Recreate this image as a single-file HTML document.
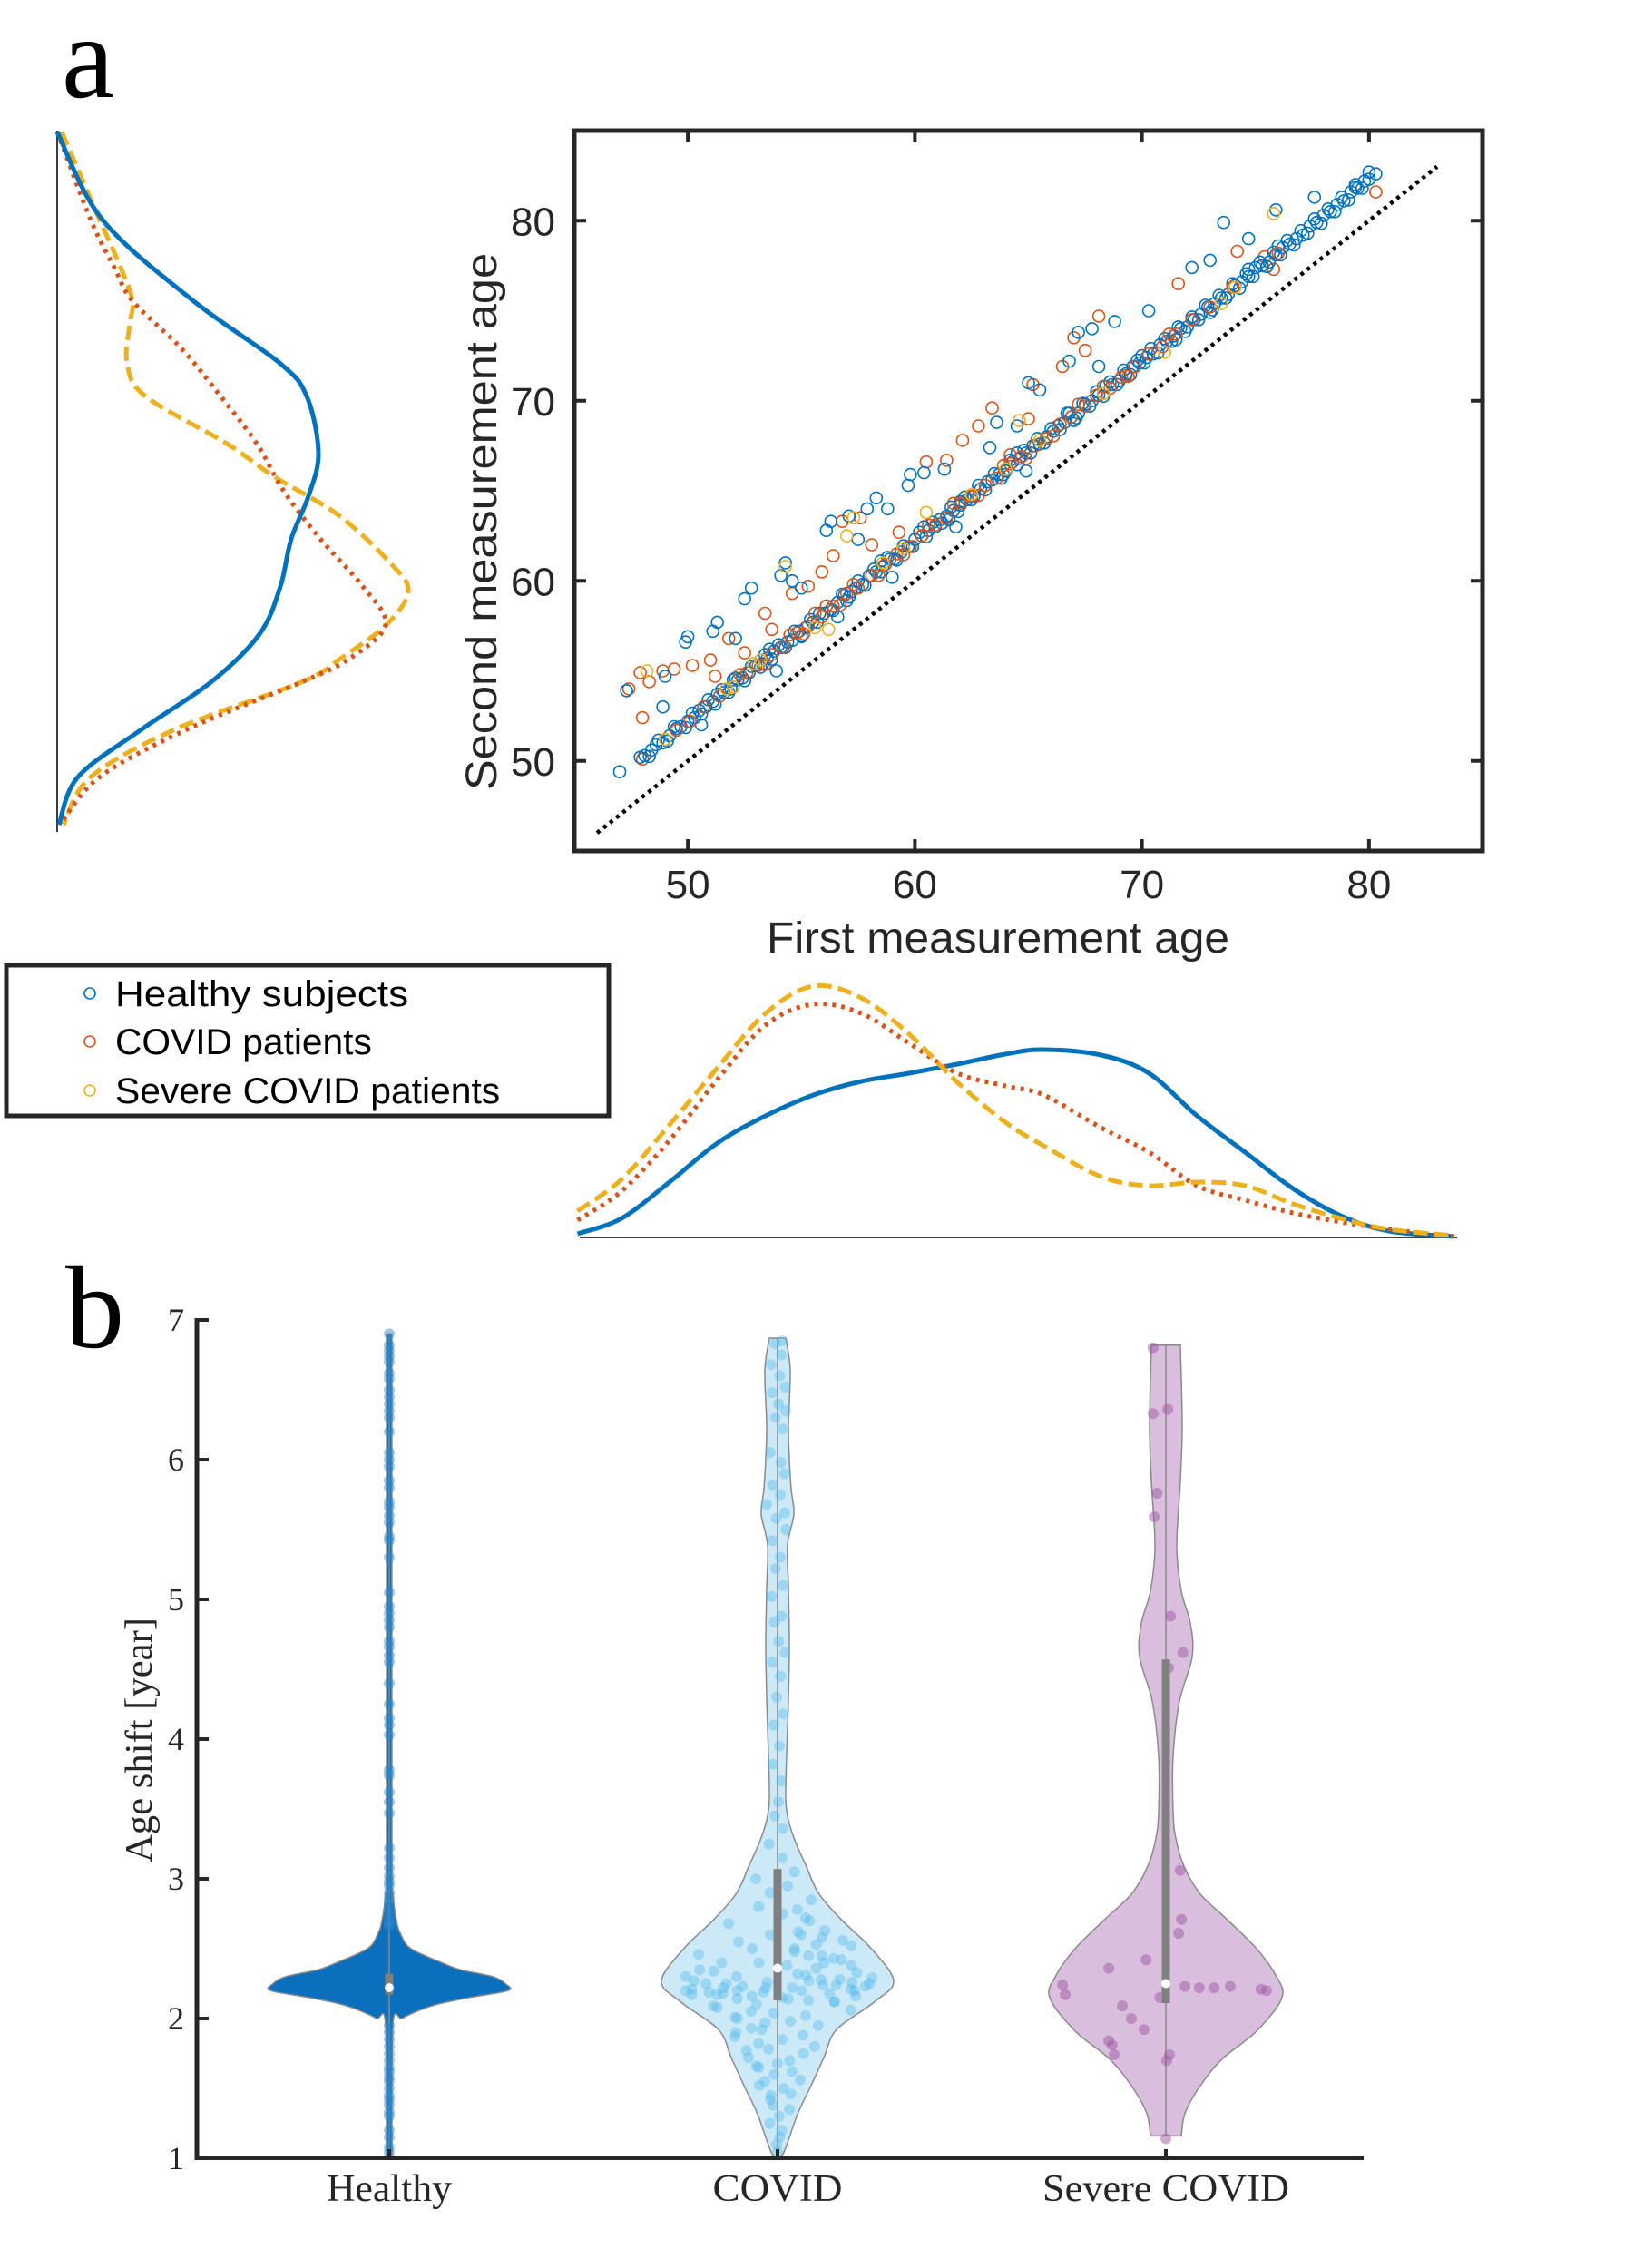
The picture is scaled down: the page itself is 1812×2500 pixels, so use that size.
<!DOCTYPE html>
<html><head><meta charset="utf-8"><title>Age shift figure</title>
<style>html,body{margin:0;padding:0;background:#fff}svg{display:block}</style></head>
<body>
<svg id="fig" xmlns="http://www.w3.org/2000/svg" width="1812" height="2500" viewBox="0 0 1812 2500">
<rect width="1812" height="2500" fill="#fff"/>
<text x="68" y="107" font-family="Liberation Serif, serif" font-size="130">a</text>
<text x="72" y="1485" font-family="Liberation Serif, serif" font-size="130">b</text>
<g id="scatterG"></g>
<g id="leftG"></g>
<g id="bottomG"></g>
<g id="legendG"></g>
<g id="violinG"></g>
</svg>
<script>
// ---------- Scatter data ----------
const blueBand = [[47.9,2.3],[48.1,2.2],[48.4,2.2],[48.6,2.3],[48.9,2.1],[49.2,2.2],[49.5,2.3],[49.7,2.2],[50.0,2.2],[50.3,2.1],[50.5,2.3],[50.8,2.2],[51.1,2.2],[51.3,2.4],[51.6,2.2],[51.9,2.1],[52.2,2.3],[52.4,2.2],[52.7,2.2],[53.0,2.3],[53.3,2.1],[53.5,2.2],[53.8,2.3],[54.1,2.2],[54.4,2.2],[54.6,2.1],[54.9,2.3],[55.2,2.2],[55.5,2.2],[55.8,2.4],[56.0,2.2],[56.3,2.1],[56.6,2.2],[56.9,2.3],[57.2,2.2],[57.4,2.2],[57.7,2.1],[58.0,2.3],[58.3,2.2],[58.6,2.2],[58.9,2.3],[59.1,2.1],[59.4,2.2],[59.7,2.2],[60.0,2.3],[60.3,2.2],[60.6,2.2],[60.9,2.1],[61.1,2.3],[61.4,2.2],[61.7,2.2],[62.0,2.4],[62.3,2.2],[62.6,2.1],[62.9,2.2],[63.2,2.3],[63.4,2.2],[63.7,2.2],[64.0,2.1],[64.3,2.3],[64.6,2.2],[64.9,2.2],[65.2,2.3],[65.5,2.1],[65.8,2.2],[66.1,2.2],[66.3,2.3],[66.6,2.2],[66.9,2.2],[67.2,2.1],[67.5,2.3],[67.8,2.2],[68.1,2.2],[68.4,2.4],[68.7,2.2],[69.0,2.1],[69.3,2.2],[69.6,2.3],[69.9,2.2],[70.2,2.2],[70.5,2.1],[70.8,2.3],[71.1,2.2],[71.4,2.2],[71.7,2.3],[72.0,2.1],[72.3,2.2],[72.6,2.2],[72.9,2.3],[73.2,2.2],[73.5,2.2],[73.8,2.1],[74.1,2.3],[74.4,2.2],[74.7,2.2],[75.0,2.4],[75.3,2.2],[75.6,2.1],[75.9,2.2],[76.2,2.3],[76.5,2.2],[76.8,2.2],[77.1,2.1],[77.4,2.3],[77.7,2.2],[78.0,2.3],[78.3,2.2],[78.6,2.3],[78.9,2.2],[79.2,2.4],[79.5,2.3],[79.8,2.4],[80.0,2.3],[80.3,2.3],[52.0,2.5],[55.0,1.9],[58.5,2.6],[61.5,1.9],[64.5,2.6],[67.0,1.9],[70.0,2.5],[73.0,1.9],[76.0,2.6],[53.6,2.6],[57.0,1.9],[60.4,2.6],[63.8,1.9],[66.7,2.6],[71.5,1.9],[74.7,2.6]];
const blueBand2 = [[48.3,1.95],[48.7,2.45],[49.1,2.0],[49.4,2.5],[49.9,1.95],[50.2,2.45],[50.6,2.0],[50.9,2.5],[51.2,1.95],[51.5,2.45],[51.8,2.0],[52.1,2.5],[52.5,1.95],[52.8,2.45],[53.2,2.0],[53.4,2.5],[53.7,1.95],[54.0,2.45],[54.3,2.0],[54.7,2.5],[55.0,1.95],[55.4,2.45],[55.7,2.0],[56.1,2.5],[56.4,1.95],[56.8,2.45],[57.1,2.0],[57.5,2.5],[57.8,1.95],[58.2,2.45],[58.5,2.0],[58.8,2.5],[59.2,1.95],[59.5,2.45],[59.9,2.0],[60.2,2.5],[60.5,1.95],[60.8,2.45],[61.2,2.0],[61.6,2.5],[61.9,1.95],[62.2,2.45],[62.5,2.0],[62.8,2.5],[63.1,1.95],[63.5,2.45],[63.9,2.0],[64.2,2.5],[64.5,1.95],[64.8,2.45],[65.1,2.0],[65.4,2.5],[65.7,1.95],[66.0,2.45],[66.4,2.0],[66.8,2.5],[67.1,1.95],[67.4,2.45],[67.7,2.0],[68.0,2.5],[68.3,1.95],[68.6,2.45],[68.9,2.0],[69.2,2.5],[69.5,1.95],[69.8,2.45],[70.1,2.0],[70.4,2.5],[70.7,1.95],[71.0,2.45],[71.3,2.0],[71.6,2.5],[71.9,1.95],[72.2,2.45],[72.5,2.0],[72.8,2.5],[73.1,1.95],[73.4,2.45],[73.7,2.0],[74.0,2.5],[74.3,1.95],[74.6,2.45],[74.9,2.0],[75.2,2.5],[75.5,1.95],[75.8,2.45],[76.1,2.0],[76.4,2.5],[76.7,1.95],[77.0,2.45],[77.3,2.0],[77.6,2.5],[77.9,1.95],[78.2,2.45],[78.5,2.0],[78.8,2.5],[79.1,2.05],[79.4,2.45],[79.7,2.1]];
const blueOut = [[47.0,49.4],[47.3,53.9],[48.9,53.0],[49.0,54.7],[49.9,56.6],[50.0,56.9],[51.1,57.2],[51.3,57.7],[52.1,56.8],[52.5,59.0],[52.8,59.6],[54.1,60.3],[54.3,61.0],[54.6,60.0],[55.0,59.6],[56.1,62.8],[56.3,63.3],[57.1,63.6],[57.9,64.0],[58.3,64.6],[58.8,64.0],[59.7,65.3],[59.8,65.9],[60.4,66.0],[61.3,66.2],[63.3,67.4],[63.6,68.8],[65.0,71.0],[65.5,70.6],[66.8,72.2],[67.2,73.8],[67.8,74.0],[68.8,74.4],[70.3,75.0],[72.2,77.4],[73.0,77.8],[73.6,79.9],[74.7,79.0],[75.9,80.6],[77.6,81.3],[79.4,82.0],[80.0,82.7],[57.5,62.3],[62.0,64.2],[64.5,68.6],[68.1,71.9],[50.6,52.0],[53.9,55.0],[56.6,58.0],[59.0,60.2],[61.8,63.0],[64.9,66.1]];
const redBand = [[49.5,2.2],[50.1,2.1],[50.7,2.3],[51.4,2.2],[52.0,2.1],[52.6,2.3],[53.1,2.2],[53.7,2.2],[54.2,2.1],[54.8,2.3],[55.3,2.2],[55.9,2.1],[56.4,2.2],[57.0,2.3],[57.5,2.1],[58.1,2.2],[58.7,2.2],[59.2,2.3],[59.8,2.1],[60.3,2.2],[60.9,2.2],[61.4,2.1],[62.0,2.3],[62.5,2.2],[63.1,2.2],[63.6,2.1],[64.2,2.3],[64.7,2.2],[65.3,2.2],[65.8,2.1],[66.4,2.3],[66.9,2.2],[67.5,2.2],[68.0,2.3],[68.6,2.1],[69.1,2.2],[69.7,2.2],[70.3,2.3],[70.9,2.1],[71.5,2.2],[72.2,2.3],[73.0,2.2],[74.0,2.3],[76.0,2.2],[55.6,2.6],[58.4,1.9],[61.7,2.6],[64.9,1.9],[67.2,2.6],[52.3,2.5],[53.4,1.95],[54.5,2.5],[55.1,1.95],[56.1,2.5],[56.7,1.95],[57.3,2.5],[59.5,1.95],[60.6,2.5],[62.8,1.95],[63.9,2.5],[66.1,1.95],[68.3,2.5],[69.4,1.95],[71.2,2.5]];
const redOut = [[47.4,54.0],[47.9,54.9],[48.0,52.4],[48.3,54.4],[48.9,55.0],[49.4,55.1],[50.2,55.3],[51.0,55.6],[51.2,54.7],[51.8,56.8],[52.5,56.0],[53.4,58.2],[53.7,57.3],[54.6,59.3],[55.3,59.7],[55.9,60.5],[56.4,61.4],[56.8,63.3],[57.6,63.5],[58.1,62.0],[59.3,62.7],[60.5,66.6],[61.4,66.7],[62.1,67.8],[62.8,68.6],[63.4,69.6],[64.2,67.0],[65.0,69.0],[65.2,70.9],[66.5,71.9],[67.0,73.5],[67.5,72.8],[68.1,74.7],[69.3,71.4],[71.6,76.5],[74.2,78.3],[75.4,78.0],[75.8,77.3],[80.3,81.6],[48.0,50.1]];
const yellowPts = [[48.2,55.0],[49.0,51.2],[51.7,54.0],[52.0,54.1],[52.9,55.4],[53.2,55.6],[54.3,60.8],[55.6,57.4],[56.2,57.3],[57.0,62.5],[57.3,63.5],[58.6,61.0],[59.5,61.8],[60.5,63.8],[62.5,64.8],[64.0,66.2],[64.6,68.9],[65.5,67.8],[68.3,70.4],[71.0,72.7],[73.5,75.4],[74.1,76.3],[75.8,80.4]];
const identityLine = [46, 83];
const xTicks = [50, 60, 70, 80];
const yTicks = [50, 60, 70, 80];

// ---------- Marginal densities ----------
const leftBlueAge = [84.94,80.05,75.55,72.11,70.26,67.09,64.71,62.33,59.68,57.04,54.39,51.75,49.11,46.46];
const leftBlueDen = [0,50,150,245,275,288,277,258,246,223,170,93,23,2];
const leftRedAge = [84.94,80.05,77.40,75.55,72.90,70.26,67.62,64.97,62.33,59.68,57.57,55.71,54.39,51.75,49.11,46.46];
const leftRedDen = [0,37,63,83,137,180,220,250,290,337,362,323,270,143,47,3];
const leftYelAge = [84.94,80.84,77.40,75.55,74.23,72.11,70.26,67.62,65.76,63.65,61.0,59.42,57.57,55.71,54.39,51.75,49.11,46.46];
const leftYelDen = [5,40,70,83,80,77,97,187,240,310,367,387,363,313,270,130,37,7];
const botAge = [45.14,47.08,49.19,51.30,53.42,55.53,57.64,59.75,61.87,63.98,65.67,68.20,70.31,72.43,74.54,76.65,78.76,80.88,83.75];
const botBlue = [4,21,61,104,134,157,172,181,191,202,207,201,181,134,94,54,24,7,1];
const botRed = [19,51,107,174,234,257,247,214,181,167,157,121,94,57,41,27,17,9,1];
const botYel = [29,64,124,187,247,277,264,224,171,127,101,67,57,61,57,37,21,9,2];

// ---------- Violin data ----------
const categories = ["Healthy", "COVID", "Severe COVID"];
const vTicks = [1,2,3,4,5,6,7];
const healthyShapeV = [1.0,1.95,2.0,2.05,2.1,2.15,2.2,2.25,2.3,2.35,2.4,2.5,2.6,2.7,2.9,3.2,6.9];
const healthyShapeW = [3,4,14,30,52,88,131,128,114,78,58,24,13,8,4,3,3];
const covidShapeV = [1.0,1.03,1.13,1.33,1.52,1.72,1.92,2.12,2.27,2.51,2.71,2.90,3.10,3.26,3.42,3.58,3.89,4.29,4.68,5.08,5.39,5.61,5.79,6.01,6.25,6.64,6.87];
const covidShapeW = [0,6,12,23,37,51,65,107,128,102,70,45,31,20,12,9,10,12,13,12,11,18,15,13,12,14,9];
const severeShapeV = [1.16,1.32,1.51,1.71,1.91,2.15,2.31,2.50,2.70,2.89,3.09,3.29,3.48,3.88,4.27,4.59,4.83,5.06,5.38,5.85,6.25,6.82];
const severeShapeW = [17,21,37,62,100,128,121,100,69,38,20,11,8,8,15,29,27,17,12,16,18,16];
const healthyBox = [2.17, 2.22, 2.32];
const covidBox = [2.13, 2.36, 3.07];
const severeBox = [2.11, 2.25, 4.57];
const healthyPts = [6.9,6.82,6.78,6.74,6.7,6.62,6.58,6.5,6.45,6.4,6.35,6.3,6.2,6.05,6.0,5.95,5.85,5.8,5.7,5.66,5.6,5.55,5.45,5.42,5.3,5.05,4.95,4.9,4.85,4.8,4.7,4.66,4.6,4.55,4.4,4.25,4.15,4.1,4.03,3.78,3.74,3.62,3.55,3.47,3.22,3.15,3.08,3.02,2.98,2.95,2.9,2.86,2.82,2.78,2.75,2.72,2.7,2.68,2.66,1.95,1.9,1.85,1.8,1.75,1.7,1.65,1.62,1.58,1.55,1.5,1.45,1.42,1.38,1.33,1.3,1.2,1.15,1.08,1.04];
const covidPtsV = [6.85,6.83,6.75,6.68,6.6,6.52,6.48,6.4,6.35,6.3,6.22,6.05,5.98,5.9,5.82,5.75,5.68,5.62,5.58,5.5,5.42,5.3,5.22,5.1,5.02,4.88,4.84,4.7,4.62,4.55,4.45,4.3,4.18,4.1,3.95,3.82,3.7,3.55,3.45,3.36,3.25,3.15,3.05,3.0,2.95,2.9,2.85,2.8,2.75,2.72,2.68,2.62,2.6,2.58,2.55,2.52,2.5,2.48,2.46,2.45,2.42,2.4,2.4,2.38,2.36,2.35,2.33,2.32,2.3,2.3,2.28,2.27,2.26,2.25,2.25,2.24,2.23,2.22,2.22,2.21,2.2,2.2,2.19,2.18,2.17,2.16,2.15,2.14,2.13,2.12,2.1,2.08,2.06,2.04,2.02,2.0,1.98,1.95,1.92,1.9,1.88,1.85,1.82,1.8,1.78,1.75,1.72,1.7,1.68,1.65,1.62,1.6,1.56,1.52,1.5,1.46,1.42,1.38,1.35,1.3,1.25,1.2,1.15,1.1,1.05,2.21,2.23,2.19,2.26,2.18,2.24,2.2,2.28,2.16,2.31,2.22,2.14,2.27,2.2,2.34,2.12,2.25,2.4,2.05,2.45,1.97,2.5,1.87,2.56,1.77,2.63,1.66,2.7,1.55,2.78,1.45,2.29,2.17,2.38,2.09,2.43,2.01,2.53,1.93,2.6];
const covidPtsJ = [0.6,-0.3,0.4,-0.6,0.2,0.7,-0.5,0.1,0.8,-0.2,0.5,-0.7,0.3,0.6,-0.4,0.2,-0.8,0.5,-0.1,0.7,-0.5,0.3,-0.2,0.6,-0.6,0.4,-0.3,0.1,0.7,-0.5,0.3,-0.1,0.6,-0.4,0.2,-0.6,0.5,0.1,-0.3,0.4,-0.5,0.2,0.6,-0.7,0.3,-0.2,0.8,-0.4,0.1,0.5,-0.8,0.3,-0.1,0.6,-0.5,0.9,-0.3,0.2,-0.9,0.5,0.7,-0.2,-0.6,0.1,0.4,-0.8,0.8,0.2,-0.4,-0.9,0.6,0.3,-0.1,0.9,-0.7,0.45,-0.35,0.15,-0.55,0.75,-0.95,0.25,-0.15,0.55,-0.65,0.85,0.05,-0.45,0.35,0.65,-0.25,-0.75,0.95,-0.05,0.4,-0.6,0.2,0.7,-0.3,-0.8,0.5,0.1,-0.4,0.8,-0.2,0.6,-0.7,0.3,0.0,-0.5,0.4,-0.1,0.7,-0.6,0.2,0.5,-0.3,-0.2,0.6,0.1,-0.5,0.3,0.2,-0.1,0.0,-0.88,0.88,-0.72,0.72,-0.58,0.58,-0.42,0.42,-0.28,0.28,-0.12,0.12,-0.8,0.8,-0.65,0.65,-0.5,0.5,-0.35,0.35,-0.2,0.2,-0.85,0.85,-0.7,0.7,-0.55,0.55,-0.4,0.4,-0.25,0.92,-0.92,0.78,-0.78,0.62,-0.62,0.48,-0.48,0.33,-0.33,0.18,-0.18,0.68,-0.68,0.52,-0.52];
const severePtsV = [6.80,6.33,6.36,5.76,5.59,4.88,4.62,4.51,3.06,2.71,2.61,2.42,2.36,2.24,2.17,2.23,2.22,2.22,2.23,2.21,2.20,2.09,2.0,1.92,2.15,1.84,1.81,1.74,1.74,1.70,1.14];
const severePtsJ = [-0.033,-0.033,0.005,-0.023,-0.030,0.012,0.044,0.007,0.037,0.040,0.033,-0.051,-0.147,-0.266,-0.259,0.049,0.086,0.124,0.166,0.245,0.259,-0.112,-0.089,-0.056,-0.016,-0.147,-0.138,-0.133,0.009,0.002,0.0];

const NS = "http://www.w3.org/2000/svg";
function mk(parent, tag, attrs, name, text) {
  const e = document.createElementNS(NS, tag);
  for (const k in attrs) e.setAttribute(k, attrs[k]);
  
  
  if (text !== undefined) e.textContent = text;
  parent.appendChild(e);
  return e;
}
function smooth(pts) {
  let d = "M" + pts[0][0].toFixed(1) + "," + pts[0][1].toFixed(1);
  for (let i = 0; i < pts.length - 1; i++) {
    const p0 = pts[Math.max(0, i - 1)], p1 = pts[i], p2 = pts[i + 1], p3 = pts[Math.min(pts.length - 1, i + 2)];
    const c1 = [p1[0] + (p2[0] - p0[0]) / 6, p1[1] + (p2[1] - p0[1]) / 6];
    const c2 = [p2[0] - (p3[0] - p1[0]) / 6, p2[1] - (p3[1] - p1[1]) / 6];
    d += " C" + c1[0].toFixed(1) + "," + c1[1].toFixed(1) + " " + c2[0].toFixed(1) + "," + c2[1].toFixed(1) + " " + p2[0].toFixed(1) + "," + p2[1].toFixed(1);
  }
  return d;
}
const BLUE = "#0072BD", RED = "#D95319", YEL = "#EDB120";

// ---------- Scatter ----------
const SX0 = 633, SX1 = 1634, SY0 = 144, SY1 = 938;
const xs = a => SX0 + (a - 45) / 40 * (SX1 - SX0);
const ys = a => SY1 - (a - 45) / 40 * (SY1 - SY0);
const sg = document.getElementById('scatterG');
mk(sg, 'line', {x1: xs(identityLine[0]), y1: ys(identityLine[0]), x2: xs(identityLine[1]), y2: ys(identityLine[1]), stroke: '#000', 'stroke-width': 4.5, 'stroke-dasharray': '4 5'}, 'identity-line');
function circles(arr, color, name, isShift) {
  const g = mk(sg, 'g', {fill: 'none', stroke: color, 'stroke-width': 1.6}, name + '-series');
  arr.forEach(p => {
    const y = isShift ? p[0] + p[1] : p[1];
    const c = document.createElementNS(NS, 'circle');
    c.setAttribute('cx', xs(p[0]).toFixed(1)); c.setAttribute('cy', ys(y).toFixed(1)); c.setAttribute('r', 6.5);
    
    
    g.appendChild(c);
  });
}
circles(redOut, RED, 'covid', false);
circles(blueOut, BLUE, 'healthy', false);
circles(blueBand, BLUE, 'healthy', true);
circles(blueBand2, BLUE, 'healthy', true);
circles(redBand, RED, 'covid', true);
circles(yellowPts, YEL, 'severe-covid', false);
mk(sg, 'rect', {x: SX0, y: SY0, width: SX1 - SX0, height: SY1 - SY0, fill: 'none', stroke: '#262626', 'stroke-width': 5}, 'scatter-axes-box');
xTicks.forEach(t => {
  mk(sg, 'line', {x1: xs(t), x2: xs(t), y1: SY1, y2: SY1 - 13, stroke: '#262626', 'stroke-width': 4}, 'x-tick');
  mk(sg, 'line', {x1: xs(t), x2: xs(t), y1: SY0, y2: SY0 + 13, stroke: '#262626', 'stroke-width': 4}, 'x-tick-top');
  mk(sg, 'text', {x: xs(t), y: 990, 'text-anchor': 'middle', 'font-family': 'Liberation Sans, sans-serif', 'font-size': 44, fill: '#262626'}, 'x-tick-label', String(t));
});
yTicks.forEach(t => {
  mk(sg, 'line', {x1: SX0, x2: SX0 + 13, y1: ys(t), y2: ys(t), stroke: '#262626', 'stroke-width': 4}, 'y-tick');
  mk(sg, 'line', {x1: SX1, x2: SX1 - 13, y1: ys(t), y2: ys(t), stroke: '#262626', 'stroke-width': 4}, 'y-tick-right');
  mk(sg, 'text', {x: 612, y: ys(t) + 16, 'text-anchor': 'end', 'font-family': 'Liberation Sans, sans-serif', 'font-size': 44, fill: '#262626'}, 'y-tick-label', String(t));
});
mk(sg, 'text', {x: 1100, y: 1050, 'text-anchor': 'middle', 'font-family': 'Liberation Sans, sans-serif', 'font-size': 48, fill: '#262626', textLength: 510, lengthAdjust: 'spacingAndGlyphs'}, 'x-axis-title', 'First measurement age');
mk(sg, 'text', {x: 0, y: 0, transform: 'translate(547,575) rotate(-90)', 'text-anchor': 'middle', 'font-family': 'Liberation Sans, sans-serif', 'font-size': 48, fill: '#262626', textLength: 592, lengthAdjust: 'spacingAndGlyphs'}, 'y-axis-title', 'Second measurement age');

// ---------- Left marginal ----------
const lg = document.getElementById('leftG');
const LX0 = 63;
mk(lg, 'line', {x1: LX0, x2: LX0, y1: SY0, y2: 917, stroke: '#000', 'stroke-width': 1.5}, 'left-marginal-baseline');
function leftCurve(ages, den, color, dash, name) {
  const pts = ages.map((a, i) => [LX0 + den[i], ys(a)]);
  const at = {d: smooth(pts), fill: 'none', stroke: color, 'stroke-width': 5};
  if (dash) at['stroke-dasharray'] = dash;
  mk(lg, 'path', at, name);
}
leftCurve(leftYelAge, leftYelDen, YEL, '16 7', 'left-density-severe');
leftCurve(leftRedAge, leftRedDen, RED, '4 6', 'left-density-covid');
leftCurve(leftBlueAge, leftBlueDen, BLUE, null, 'left-density-healthy');

// ---------- Bottom marginal ----------
const bg = document.getElementById('bottomG');
const BY0 = 1364;
mk(bg, 'line', {x1: 639, x2: 1606, y1: BY0, y2: BY0, stroke: '#000', 'stroke-width': 1.5}, 'bottom-marginal-baseline');
function botCurve(h, color, dash, name) {
  const pts = botAge.map((a, i) => [xs(a), BY0 - h[i]]);
  const at = {d: smooth(pts), fill: 'none', stroke: color, 'stroke-width': 5};
  if (dash) at['stroke-dasharray'] = dash;
  mk(bg, 'path', at, name);
}
botCurve(botBlue, BLUE, null, 'bottom-density-healthy');
botCurve(botRed, RED, '4 6', 'bottom-density-covid');
botCurve(botYel, YEL, '16 7', 'bottom-density-severe');

// ---------- Legend ----------
const leg = document.getElementById('legendG');
mk(leg, 'rect', {x: 7, y: 1064, width: 664, height: 166, fill: '#fff', stroke: '#262626', 'stroke-width': 5}, 'legend-box');
const legItems = [["Healthy subjects", BLUE, 1095], ["COVID patients", RED, 1148], ["Severe COVID patients", YEL, 1202]];
legItems.forEach(it => {
  mk(leg, 'circle', {cx: 99, cy: it[2], r: 6, fill: 'none', stroke: it[1], 'stroke-width': 1.6}, 'legend-marker');
  mk(leg, 'text', {x: 127, y: it[2] + 14, 'font-family': 'Liberation Sans, sans-serif', 'font-size': 40, fill: '#000', textLength: it[0].length * 20.2, lengthAdjust: 'spacingAndGlyphs'}, 'legend-entry', it[0]);
});

// ---------- Violin ----------
const vg = document.getElementById('violinG');
const VX0 = 217, VX1 = 1503, VY7 = 1455, VY1 = 2379;
const yv = v => VY1 - (v - 1) / 6 * (VY1 - VY7);
const catX = i => 429 + i * 428;
function hwAt(V, W, v) {
  if (v <= V[0]) return W[0];
  for (let i = 0; i < V.length - 1; i++) if (v <= V[i + 1]) { const t = (v - V[i]) / (V[i + 1] - V[i]); return W[i] + t * (W[i + 1] - W[i]); }
  return W[W.length - 1];
}
function violin(i, V, W, fill, op, name) {
  const cx = catX(i);
  const right = V.map((v, k) => [cx + W[k], yv(v)]);
  const left = V.map((v, k) => [cx - W[k], yv(v)]).reverse();
  let d = smooth(right) + " L" + left[0][0].toFixed(1) + "," + left[0][1].toFixed(1) + " " + smooth(left).slice(1).replace(/^[^C]*/, '') + " Z";
  mk(vg, 'path', {d: d, fill: fill, 'fill-opacity': op, stroke: '#8a8a8a', 'stroke-width': 1.5}, name + '-violin');
  mk(vg, 'line', {x1: cx, x2: cx, y1: yv(V[V.length - 1]), y2: yv(V[0]), stroke: '#8a8a8a', 'stroke-width': 1.5}, name + '-whisker');
}
violin(0, healthyShapeV, healthyShapeW, '#0a6fbd', 1, 'healthy');
violin(1, covidShapeV, covidShapeW, '#bfe3f6', 0.8, 'covid');
violin(2, severeShapeV, severeShapeW, '#c9a2cf', 0.7, 'severe');
const hg = mk(vg, 'g', {fill: '#2a84cc', 'fill-opacity': 0.45}, 'healthy-points');
healthyPts.forEach(v => {
  const c = document.createElementNS(NS, 'circle');
  c.setAttribute('cx', catX(0)); c.setAttribute('cy', yv(v).toFixed(1)); c.setAttribute('r', 6);
  
  
  hg.appendChild(c);
});
const cg = mk(vg, 'g', {fill: '#52b9ea', 'fill-opacity': 0.4}, 'covid-points');
covidPtsV.forEach((v, k) => {
  const j = (k < covidPtsJ.length) ? covidPtsJ[k] : 0;
  const c = document.createElementNS(NS, 'circle');
  c.setAttribute('cx', (catX(1) + j * hwAt(covidShapeV, covidShapeW, v) * 0.9).toFixed(1)); c.setAttribute('cy', yv(v).toFixed(1)); c.setAttribute('r', 6);
  
  
  cg.appendChild(c);
});
const svg2 = mk(vg, 'g', {fill: '#a05aa5', 'fill-opacity': 0.5}, 'severe-points');
severePtsV.forEach((v, k) => {
  const c = document.createElementNS(NS, 'circle');
  c.setAttribute('cx', (catX(2) + severePtsJ[k] * 428).toFixed(1)); c.setAttribute('cy', yv(v).toFixed(1)); c.setAttribute('r', 6);
  
  
  svg2.appendChild(c);
});
[healthyBox, covidBox, severeBox].forEach((b, i) => {
  mk(vg, 'rect', {x: catX(i) - 4.5, y: yv(b[2]), width: 9, height: yv(b[0]) - yv(b[2]), fill: '#7f7f7f'}, categories[i].toLowerCase().replace(' ', '-') + '-iqr-box');
  mk(vg, 'circle', {cx: catX(i), cy: yv(b[1]), r: 5, fill: '#fff'}, categories[i].toLowerCase().replace(' ', '-') + '-median');
});
mk(vg, 'line', {x1: VX0, x2: VX0, y1: VY7 - 2, y2: VY1 + 2, stroke: '#262626', 'stroke-width': 5}, 'violin-y-axis');
mk(vg, 'line', {x1: VX0 - 2, x2: VX1, y1: VY1, y2: VY1, stroke: '#262626', 'stroke-width': 4}, 'violin-x-axis');
vTicks.forEach(t => {
  mk(vg, 'line', {x1: VX0, x2: VX0 + 13, y1: yv(t), y2: yv(t), stroke: '#262626', 'stroke-width': 4}, 'violin-y-tick');
  mk(vg, 'text', {x: 203, y: yv(t) + 12, 'text-anchor': 'end', 'font-family': 'Liberation Serif, serif', 'font-size': 36, fill: '#262626'}, 'violin-y-tick-label', String(t));
});
const catLabelLen = [138, 143, 272];
categories.forEach((c, i) => {
  mk(vg, 'line', {x1: catX(i), x2: catX(i), y1: VY1, y2: VY1 - 10, stroke: '#262626', 'stroke-width': 4}, 'violin-x-tick');
  mk(vg, 'text', {x: catX(i), y: 2426, 'text-anchor': 'middle', 'font-family': 'Liberation Serif, serif', 'font-size': 42, fill: '#262626', textLength: catLabelLen[i], lengthAdjust: 'spacingAndGlyphs'}, 'category-label', c);
});
mk(vg, 'text', {x: 0, y: 0, transform: 'translate(167,1918) rotate(-90)', 'text-anchor': 'middle', 'font-family': 'Liberation Serif, serif', 'font-size': 42, fill: '#262626', textLength: 270, lengthAdjust: 'spacingAndGlyphs'}, 'violin-y-axis-title', 'Age shift [year]');
</script>
</body></html>
